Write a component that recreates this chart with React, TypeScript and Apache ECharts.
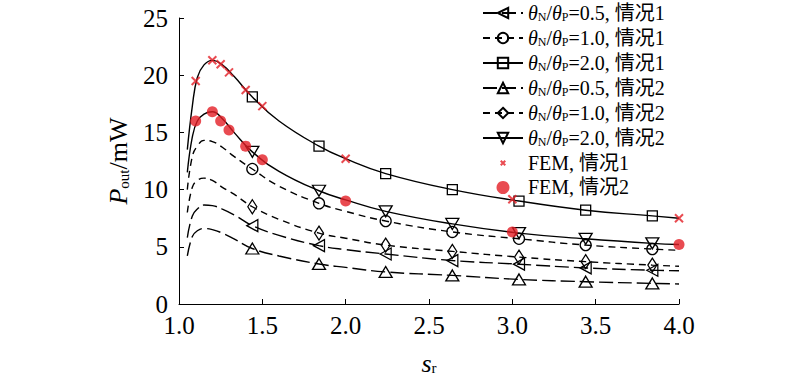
import React, { useEffect, useRef } from "react";
import * as echarts from "echarts";

const sr = [1.05, 1.08, 1.11, 1.15, 1.2, 1.26, 1.33, 1.44, 1.6, 1.84, 2.0, 2.24, 2.64, 3.04, 3.44, 3.84, 4.0];
const markerSr = [1.44, 1.84, 2.24, 2.64, 3.04, 3.44, 3.84];

const c1r05 = [5.8, 7.7, 8.3, 8.65, 8.6, 8.3, 7.8, 6.85, 6.0, 5.1, 4.75, 4.37, 3.8, 3.48, 3.15, 2.95, 2.9];
const c1r10 = [10.0, 12.9, 13.8, 14.3, 14.2, 13.7, 12.9, 11.8, 10.3, 8.8, 8.1, 7.25, 6.3, 5.7, 5.15, 4.8, 4.7];
const c1r20 = [13.5, 17.3, 19.8, 20.9, 21.3, 20.9, 19.9, 18.1, 16.0, 13.8, 12.7, 11.4, 10.0, 9.0, 8.2, 7.7, 7.5];
const c2r05 = [4.2, 5.9, 6.4, 6.6, 6.5, 6.2, 5.7, 4.85, 4.2, 3.5, 3.2, 2.8, 2.5, 2.15, 1.95, 1.8, 1.75];
const c2r10 = [8.0, 10.2, 10.8, 11.0, 10.8, 10.2, 9.6, 8.5, 7.4, 6.2, 5.75, 5.15, 4.6, 4.1, 3.7, 3.4, 3.3];
const c2r20 = [11.5, 14.6, 16.0, 16.6, 16.8, 16.2, 15.0, 13.3, 11.6, 9.9, 9.1, 8.1, 7.0, 6.2, 5.7, 5.3, 5.2];

const femSr = [1.1, 1.2, 1.25, 1.3, 1.4, 1.5, 2.0, 3.0, 4.0];
const fem1 = [19.5, 21.3, 20.95, 20.25, 18.7, 17.3, 12.7, 9.15, 7.5];
const fem2 = [16.0, 16.8, 16.0, 15.2, 13.8, 12.6, 9.0, 6.3, 5.2];

const ratios = ["0.5", "1.0", "2.0", "0.5", "1.0", "2.0"];
const cases = ["1", "1", "1", "2", "2", "2"];
const curves = [c1r05, c1r10, c1r20, c2r05, c2r10, c2r20];
const symbols = ["triangle", "circle", "rect", "triangle", "diamond", "triangle"];
const rotates = [90, 0, 0, 0, 0, 180];
const symSizes: any[] = [[12, 11], 11, 10, [13, 11], [9, 14], [13, 11]];
const dashes: any[] = [[14, 5], [7, 5], "solid", [14, 5], [7, 5], "solid"];

const yTicks = [0, 5, 10, 15, 20, 25];
const xTicks = [1.0, 1.5, 2.0, 2.5, 3.0, 3.5, 4.0];

const SERIF = "'Liberation Serif', 'Times New Roman', 'Noto Sans CJK SC', serif";
const RED = "#e41e26";
const INK = "#000";
const CROSS = "path://M6,6L14,14M14,6L6,14";
const CROSS_LEGEND = "path://M0,0L0.01,0.01M20,20L20.01,20.01M6.5,6.5L13.5,13.5M13.5,6.5L6.5,13.5";

export default function App() {
  const ref = useRef<HTMLDivElement>(null);
  useEffect(() => {
    if (!ref.current) return;
    const chart = echarts.init(ref.current, null, { renderer: "svg" });
    const names = ratios.map((r, i) => `θN/θP=${r}, 情况${cases[i]}`);
    const lineSeries = curves.map((vals, i) => ({
      name: names[i],
      type: "line",
      smooth: 0.45,
      symbol: symbols[i],
      symbolRotate: rotates[i],
      symbolSize: symSizes[i],
      showSymbol: true,
      lineStyle: { color: INK, width: 1.4, type: dashes[i] },
      itemStyle: { color: "rgba(255,255,255,0)", borderColor: INK, borderWidth: 1.3 },
      data: sr.map((x, k) =>
        markerSr.includes(x) ? { value: [x, vals[k]] } : { value: [x, vals[k]], symbol: "none" }
      ),
      z: 3,
    }));
    const option: any = {
      animation: false,
      backgroundColor: "#fff",
      grid: { left: 179, right: 121, top: 18, bottom: 76 },
      legend: {
        orient: "vertical",
        left: 477,
        top: -2,
        itemWidth: 40,
        itemHeight: 13,
        itemGap: 4.5,
        data: [
          ...names,
          { name: "FEM, 情况1", icon: CROSS_LEGEND },
          "FEM, 情况2",
        ],
        formatter: (name: string) => {
          const m = name.match(/=(\S+), 情况(\d)/);
          if (m) return `{i|θ}{s|N}{n|/}{i|θ}{s|P}{n|=${m[1]}, 情况${m[2]}}`;
          return `{n|${name}}`;
        },
        textStyle: {
          color: INK,
          fontFamily: SERIF,
          fontSize: 20,
          rich: {
            i: { fontStyle: "italic", fontSize: 20, fontFamily: SERIF, lineHeight: 21, color: INK },
            s: { fontSize: 12, fontFamily: SERIF, lineHeight: 12, verticalAlign: "bottom", color: INK },
            n: { fontSize: 20, fontFamily: SERIF, lineHeight: 21, color: INK },
          },
        },
      },
      xAxis: {
        type: "value",
        min: 1.0,
        max: 4.0,
        interval: 0.5,
        name: "{i|s}{s|r}",
        nameLocation: "middle",
        nameGap: 46,
        nameTextStyle: {
          rich: {
            i: { fontStyle: "italic", fontSize: 26, fontFamily: SERIF, lineHeight: 26, color: INK },
            s: { fontSize: 15, fontFamily: SERIF, lineHeight: 15, verticalAlign: "bottom", color: INK },
          },
        },
        axisLine: { show: true, lineStyle: { color: INK, width: 1 } },
        axisTick: { show: true, inside: true, length: 5, lineStyle: { color: INK } },
        splitLine: { show: false },
        axisLabel: {
          color: INK,
          fontFamily: SERIF,
          fontSize: 25,
          lineHeight: 19,
          margin: 12,
          formatter: (v: number) => (xTicks.includes(v) ? v.toFixed(1) : ""),
        },
      },
      yAxis: {
        type: "value",
        min: 0,
        max: 25,
        interval: 5,
        name: "{i|P}{s|out}{n|/mW}",
        nameLocation: "middle",
        nameGap: 48,
        nameTextStyle: {
          rich: {
            i: { fontStyle: "italic", fontSize: 26, fontFamily: SERIF, lineHeight: 26, color: INK },
            s: { fontSize: 15, fontFamily: SERIF, lineHeight: 15, verticalAlign: "bottom", color: INK },
            n: { fontSize: 26, fontFamily: SERIF, lineHeight: 26, color: INK },
          },
        },
        axisLine: { show: true, lineStyle: { color: INK, width: 1 } },
        axisTick: { show: true, inside: true, length: 5, lineStyle: { color: INK } },
        splitLine: { show: false },
        axisLabel: {
          color: INK,
          fontFamily: SERIF,
          fontSize: 25,
          lineHeight: 19,
          margin: 11,
          formatter: (v: number) => (yTicks.includes(v) ? String(v) : ""),
        },
      },
      series: [
        ...lineSeries,
        {
          name: "FEM, 情况1",
          type: "scatter",
          symbol: CROSS,
          symbolSize: 8,
          itemStyle: { color: "rgba(0,0,0,0)", borderColor: RED, borderWidth: 2 },
          data: femSr.map((x, k) => [x, fem1[k]]),
          z: 5,
        },
        {
          name: "FEM, 情况2",
          type: "scatter",
          symbol: "circle",
          symbolSize: 11,
          itemStyle: { color: RED },
          data: femSr.map((x, k) => [x, fem2[k]]),
          z: 5,
        },
      ],
    };
    chart.setOption(option);
    return () => chart.dispose();
  }, []);
  return <div ref={ref} style={{ width: 800, height: 381, position: "absolute", left: 0, top: 0 }} />;
}
